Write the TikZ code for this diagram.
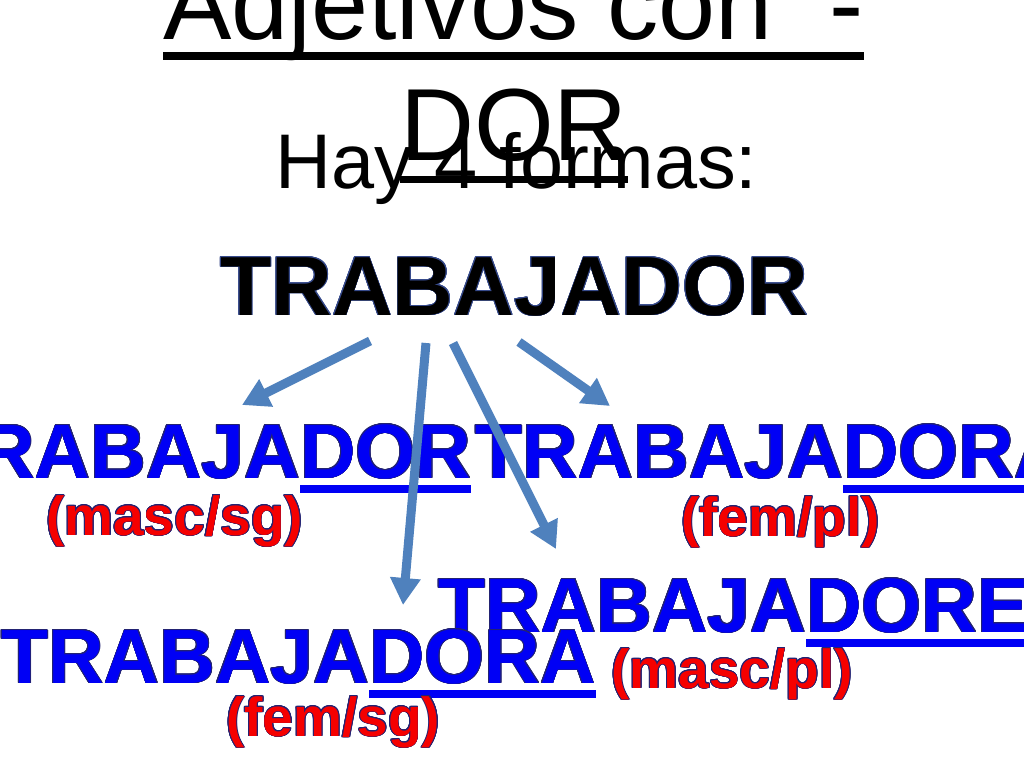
\documentclass[tikz,border=0pt]{standalone}
\usepackage{fontspec}
\setmainfont{Liberation Sans}
\usepackage{contour}
\usetikzlibrary{arrows.meta}
\definecolor{azulpal}{RGB}{0,0,245}
\definecolor{rojopal}{RGB}{245,0,0}
\definecolor{borde}{RGB}{35,35,115}
\definecolor{brillo}{RGB}{55,75,140}
\definecolor{flechaazul}{RGB}{79,129,189}
\contourlength{0.8pt}
\newcommand{\raya}[3]{\setbox0\hbox{#3}\rlap{\rule[-#1]{\wd0}{#2}}\box0}
\tikzset{
  palabra/.style={anchor=base west,inner sep=0pt,text=azulpal,
    font=\bfseries\fontsize{77}{80}\selectfont},
  etiqueta/.style={anchor=base west,inner sep=0pt,text=rojopal,
    font=\bfseries\fontsize{55}{58}\selectfont},
  flecha/.style={line width=9pt,draw=flechaazul,
    -{Triangle[width=29pt,length=27pt]}}
}
\begin{document}
\begin{tikzpicture}[x=1pt,y=-1pt]
  \useasboundingbox (0,0) rectangle (1024,768);
  \clip (0,0) rectangle (1024,768);
  \fill[white] (0,0) rectangle (1024,768);

  \node[anchor=base west,inner sep=0pt,font=\fontsize{102.5}{120}\selectfont]
  (titulo) at (163,40) {\raya{20pt}{8pt}{Adjetivos con\ \ -}};
  \node[anchor=base west,inner sep=0pt,font=\fontsize{102.5}{120}\selectfont]
  (titulodor) at (400,160) {\raya{23pt}{7pt}{DOR}};
  \node[anchor=base west,inner sep=0pt,font=\fontsize{77.5}{80}\selectfont]
  (hay) at (275,188) {Hay 4 formas:};
  \node[anchor=base west,inner sep=0pt,font=\bfseries\fontsize{84}{88}\selectfont]
  (raiz) at (220,315) {\contour{brillo}{TRABAJADOR}};

  \node[palabra] (mascsg) at (-68,478)
  {\contour{borde}{TRABAJA}\raya{15pt}{8pt}{\contour{borde}{DOR}}};
  \node[palabra] (fempl) at (475,478)
  {\contour{borde}{TRABAJA}\raya{15pt}{8pt}{\contour{borde}{DORAS}}};
  \node[palabra] (mascpl) at (438,632)
  {\contour{borde}{TRABAJA}\raya{15pt}{8pt}{\contour{borde}{DORES}}};
  \node[palabra] (femsg) at (1,683)
  {\contour{borde}{TRABAJA}\raya{15pt}{8pt}{\contour{borde}{DORA}}};

  \node[etiqueta] (lmascsg) at (46,535) {\contour{borde}{(masc/sg)}};
  \node[etiqueta] (lfempl) at (681,536) {\contour{borde}{(fem/pl)}};
  \node[etiqueta] (lmascpl) at (611,688) {\contour{borde}{(masc/pl)}};
  \node[etiqueta] (lfemsg) at (226,736) {\contour{borde}{(fem/sg)}};

  \coordinate (o1) at (370,341);
  \coordinate (o2) at (426,343);
  \coordinate (o3) at (453,343);
  \coordinate (o4) at (519,342);
  \coordinate (p1) at (242,405);
  \coordinate (p2) at (403,605);
  \coordinate (p3) at (556,549);
  \coordinate (p4) at (610,406);

  \draw[flecha] (o1) -- (p1);
  \draw[flecha] (o2) -- (p2);
  \draw[flecha] (o3) -- (p3);
  \draw[flecha] (o4) -- (p4);
\end{tikzpicture}
\end{document}
